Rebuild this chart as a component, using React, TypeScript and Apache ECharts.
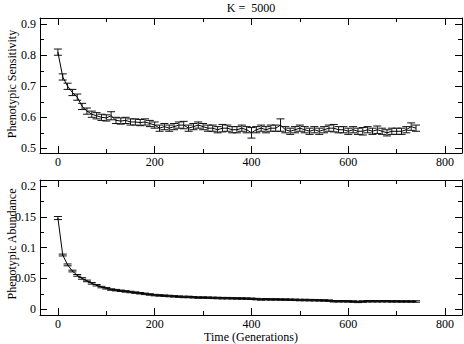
import React, { useEffect, useRef } from "react";
import * as echarts from "echarts";

const generations = [
  0, 10, 20, 30, 40, 50, 60, 70, 80, 90, 100, 110, 120, 130, 140, 150, 160, 170, 180, 190,
  200, 210, 220, 230, 240, 250, 260, 270, 280, 290, 300, 310, 320, 330, 340, 350, 360, 370, 380, 390,
  400, 410, 420, 430, 440, 450, 460, 470, 480, 490, 500, 510, 520, 530, 540, 550, 560, 570, 580, 590,
  600, 610, 620, 630, 640, 650, 660, 670, 680, 690, 700, 710, 720, 730, 740,
];

const sensitivity = [
  0.81, 0.73, 0.7, 0.68, 0.665, 0.635, 0.62, 0.61, 0.605, 0.6, 0.598, 0.605, 0.59, 0.588, 0.59, 0.585, 0.585, 0.583, 0.585, 0.58,
  0.575, 0.565, 0.57, 0.565, 0.57, 0.575, 0.575, 0.565, 0.57, 0.575, 0.57, 0.565, 0.565, 0.56, 0.565, 0.565, 0.56, 0.56, 0.565, 0.56,
  0.55, 0.56, 0.565, 0.56, 0.565, 0.565, 0.575, 0.56, 0.555, 0.56, 0.565, 0.56, 0.555, 0.56, 0.555, 0.56, 0.565, 0.565, 0.56, 0.56,
  0.555, 0.56, 0.555, 0.555, 0.56, 0.555, 0.56, 0.555, 0.55, 0.555, 0.555, 0.555, 0.56, 0.57, 0.565,
];

const sensitivityErr = [
  0.01, 0.01, 0.01, 0.01, 0.01, 0.01, 0.01, 0.01, 0.01, 0.01, 0.01, 0.013, 0.01, 0.01, 0.01, 0.01, 0.01, 0.01, 0.01, 0.01,
  0.01, 0.01, 0.01, 0.01, 0.01, 0.01, 0.012, 0.01, 0.01, 0.01, 0.01, 0.01, 0.01, 0.01, 0.012, 0.01, 0.01, 0.01, 0.01, 0.01,
  0.017, 0.01, 0.01, 0.01, 0.01, 0.01, 0.02, 0.01, 0.01, 0.01, 0.01, 0.01, 0.01, 0.01, 0.01, 0.01, 0.01, 0.012, 0.01, 0.01,
  0.01, 0.01, 0.01, 0.012, 0.01, 0.01, 0.012, 0.01, 0.01, 0.01, 0.01, 0.01, 0.01, 0.012, 0.01,
];

const abundance = [
  0.148, 0.088, 0.072, 0.062, 0.055, 0.05, 0.046, 0.042, 0.039, 0.036, 0.034, 0.032, 0.031, 0.03, 0.029, 0.028, 0.027, 0.026, 0.025, 0.024,
  0.023, 0.0225, 0.022, 0.0215, 0.021, 0.0205, 0.02, 0.02, 0.0195, 0.019, 0.019, 0.0188, 0.0185, 0.0183, 0.018, 0.018, 0.0178, 0.0176, 0.0175, 0.0173,
  0.017, 0.0165, 0.016, 0.0162, 0.016, 0.016, 0.0158, 0.0157, 0.0155, 0.0153, 0.015, 0.015, 0.0148, 0.0147, 0.0145, 0.0143, 0.014, 0.013, 0.013, 0.013,
  0.0128, 0.0125, 0.012, 0.0125, 0.013, 0.013, 0.013, 0.013, 0.013, 0.0128, 0.0128, 0.0127, 0.0127, 0.0126, 0.0126,
];

const abundanceErr = [
  0.0025, 0.0015, 0.0015, 0.0014, 0.0014, 0.0013, 0.0013, 0.0013, 0.0012, 0.0012, 0.0012, 0.0012, 0.0012, 0.0012, 0.0012, 0.0012, 0.0012, 0.0012, 0.0012, 0.0012,
  0.0012, 0.0012, 0.0012, 0.0012, 0.0012, 0.0012, 0.0012, 0.0012, 0.0012, 0.0012, 0.0012, 0.0012, 0.0012, 0.0012, 0.0012, 0.0012, 0.0012, 0.0012, 0.0012, 0.0012,
  0.0012, 0.0012, 0.0012, 0.0012, 0.0012, 0.0012, 0.0012, 0.0012, 0.0012, 0.0012, 0.0012, 0.0012, 0.0012, 0.0012, 0.0012, 0.0012, 0.0012, 0.0012, 0.0012, 0.0012,
  0.0012, 0.0012, 0.0012, 0.0012, 0.0012, 0.0012, 0.0012, 0.0012, 0.0012, 0.0012, 0.0012, 0.0012, 0.0012, 0.0012, 0.0012,
];

const xMajor = [0, 200, 400, 600, 800];
const xMinor = [100, 300, 500, 700];
const ySensMajor = [0.5, 0.6, 0.7, 0.8, 0.9];
const ySensMinor = [0.55, 0.65, 0.75, 0.85];
const yAbunMajor = [0, 0.05, 0.1, 0.15, 0.2];
const yAbunMinor = [0.025, 0.075, 0.125, 0.175];

const FONT = "'Liberation Serif', 'Times New Roman', serif";

export default function App() {
  const ref = useRef<HTMLDivElement>(null);

  useEffect(() => {
    if (!ref.current) return;
    const chart = echarts.init(ref.current, undefined, { renderer: "svg" });

    const grids = [
      { left: 40, top: 18, width: 422, height: 135 },
      { left: 40, top: 180, width: 422, height: 135 },
    ];
    const xRange = { min: -37, max: 835 };
    const yRanges = [
      { min: 0.485, max: 0.92, major: ySensMajor, minor: ySensMinor },
      { min: -0.0093, max: 0.2097, major: yAbunMajor, minor: yAbunMinor },
    ];

    const xAxes: any[] = [];
    const yAxes: any[] = [];
    for (let g = 0; g < 2; g++) {
      const mk = (pos: string, vals: number[], len: number, main: boolean, labels: boolean) => ({
        type: "value",
        gridIndex: g,
        position: pos,
        min: xRange.min,
        max: xRange.max,
        splitLine: { show: false },
        axisLine: { show: main, onZero: false, lineStyle: { color: "#000", width: 1 } },
        axisTick: { show: true, inside: true, length: len, customValues: vals, lineStyle: { color: "#000", width: 1 } },
        axisLabel: labels
          ? { show: true, customValues: vals, color: "#000", fontFamily: FONT, fontSize: 12, margin: 3 }
          : { show: false },
      });
      xAxes.push(mk("bottom", xMajor, 7, true, true));
      xAxes.push(mk("bottom", xMinor, 4, false, false));
      xAxes.push(mk("top", xMajor, 7, true, false));
      xAxes.push(mk("top", xMinor, 4, false, false));

      const yr = yRanges[g];
      const mky = (pos: string, vals: number[], len: number, main: boolean, labels: boolean) => ({
        type: "value",
        gridIndex: g,
        position: pos,
        min: yr.min,
        max: yr.max,
        splitLine: { show: false },
        axisLine: { show: main, onZero: false, lineStyle: { color: "#000", width: 1 } },
        axisTick: { show: true, inside: true, length: len, customValues: vals, lineStyle: { color: "#000", width: 1 } },
        axisLabel: labels
          ? { show: true, customValues: vals, color: "#000", fontFamily: FONT, fontSize: 12, margin: 4 }
          : { show: false },
      });
      yAxes.push(mky("left", yr.major, 7, true, true));
      yAxes.push(mky("left", yr.minor, 4, false, false));
      yAxes.push(mky("right", yr.major, 7, true, false));
      yAxes.push(mky("right", yr.minor, 4, false, false));
    }

    const errRender = (params: any, api: any) => {
      const x = api.value(0);
      const lo = api.value(1);
      const hi = api.value(2);
      const pLo = api.coord([x, lo]);
      const pHi = api.coord([x, hi]);
      const w = 4;
      const style = { stroke: "#111", lineWidth: 1 };
      return {
        type: "group",
        children: [
          { type: "line", shape: { x1: pLo[0], y1: pLo[1], x2: pHi[0], y2: pHi[1] }, style },
          { type: "line", shape: { x1: pLo[0] - w, y1: pLo[1], x2: pLo[0] + w, y2: pLo[1] }, style },
          { type: "line", shape: { x1: pHi[0] - w, y1: pHi[1], x2: pHi[0] + w, y2: pHi[1] }, style },
        ],
      };
    };

    const sensLine = generations.map((g, i) => [g, sensitivity[i]]);
    const sensErr = generations.map((g, i) => [g, sensitivity[i] - sensitivityErr[i], sensitivity[i] + sensitivityErr[i]]);
    const abLine = generations.map((g, i) => [g, abundance[i]]);
    const abErr = generations.map((g, i) => [g, abundance[i] - abundanceErr[i], abundance[i] + abundanceErr[i]]);

    const textStyle = (text: string) => ({
      text,
      fontFamily: FONT,
      fontSize: 12,
      fill: "#000",
      align: "center",
      verticalAlign: "middle",
    });

    chart.setOption({
      animation: false,
      backgroundColor: "#fff",
      textStyle: { fontFamily: FONT },
      grid: grids.map((g) => ({ ...g, containLabel: false, show: false })),
      xAxis: xAxes,
      yAxis: yAxes,
      series: [
        {
          type: "custom",
          xAxisIndex: 0,
          yAxisIndex: 0,
          renderItem: errRender,
          encode: { x: 0, y: [1, 2] },
          data: sensErr,
          silent: true,
        },
        {
          type: "line",
          xAxisIndex: 0,
          yAxisIndex: 0,
          data: sensLine,
          showSymbol: false,
          symbol: "none",
          lineStyle: { color: "#000", width: 1 },
          silent: true,
        },
        {
          type: "custom",
          xAxisIndex: 4,
          yAxisIndex: 4,
          renderItem: errRender,
          encode: { x: 0, y: [1, 2] },
          data: abErr,
          silent: true,
        },
        {
          type: "line",
          xAxisIndex: 4,
          yAxisIndex: 4,
          data: abLine,
          showSymbol: false,
          symbol: "none",
          lineStyle: { color: "#000", width: 1 },
          silent: true,
        },
      ],
      graphic: [
        { type: "text", x: 251, y: 8, style: textStyle("K =  5000") },
        { type: "text", x: 12, y: 84, rotation: Math.PI / 2, style: textStyle("Phenotypic Sensitivity") },
        { type: "text", x: 12, y: 244, rotation: Math.PI / 2, style: textStyle("Phenotypic Abundance") },
        { type: "text", x: 251, y: 337, style: textStyle("Time (Generations)") },
      ],
    });

    return () => chart.dispose();
  }, []);

  return <div ref={ref} style={{ width: 464, height: 344, position: "absolute", left: 0, top: 0 }} />;
}
